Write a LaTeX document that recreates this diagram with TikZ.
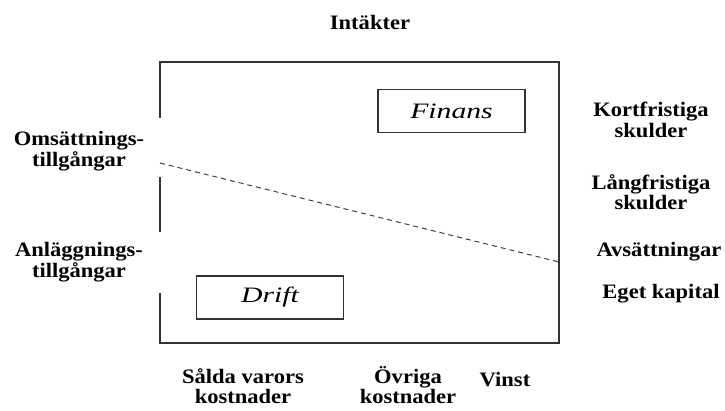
\documentclass[tikz,border=0pt]{standalone}
\usepackage{fontspec}
\setmainfont{Liberation Serif}[FakeStretch=1.1]
\newfontfamily\boxfont{Liberation Serif}[FakeStretch=1.35]

\begin{document}
\begin{tikzpicture}[x=1pt,y=-1pt,
  lbl/.style={font=\fontsize{20.5}{20.5}\selectfont\bfseries,align=center,inner sep=0pt},
  part/.style={draw=black!80,line width=1.2pt,minimum width=147pt,minimum height=43pt,inner sep=0pt,font=\boxfont\fontsize{22}{24}\selectfont\itshape},
  frame/.style={draw=black!80,line width=1.3pt}]
\useasboundingbox (0,0) rectangle (725,410);
% frame corners
\coordinate (tl) at (160,62);
\coordinate (tr) at (559,62);
\coordinate (br) at (559,343);
\coordinate (bl) at (160,343);
\coordinate (gapa) at (160,118);
\coordinate (gapb) at (160,177);
\coordinate (gapc) at (160,232);
\coordinate (gapd) at (160,293);
\coordinate (split_l) at (160,163);
\coordinate (split_r) at (559,262);
\draw[frame] (gapa) -- (tl) -- (tr) -- (br) -- (bl) -- (gapd);
\draw[frame] (gapb) -- (gapc);
\draw[draw=black!75,line width=1pt,dash pattern=on 5pt off 4pt] (split_l) -- (split_r);
% boxes
\node[part] (finans) at (451.5,111) {Finans};
\node[part] (drift) at (270,297.5) {Drift};
% labels
\node[lbl] (intakter) at (370,22) {Intäkter};
\node[lbl] (oms) at (79,151) {Omsättnings-\\tillgångar};
\node[lbl] (anl) at (79,262) {Anläggnings-\\tillgångar};
\node[lbl] (kort) at (651,120) {Kortfristiga\\skulder};
\node[lbl] (lang) at (651,192) {Långfristiga\\skulder};
\node[lbl] (avs) at (659,252) {Avsättningar};
\node[lbl] (eget) at (661,294) {Eget kapital};
\node[lbl] (salda) at (243,386) {Sålda varors\\kostnader};
\node[lbl] (ovriga) at (408,385) {Övriga\\kostnader};
\node[lbl] (vinst) at (505,380) {Vinst};
\end{tikzpicture}
\end{document}
